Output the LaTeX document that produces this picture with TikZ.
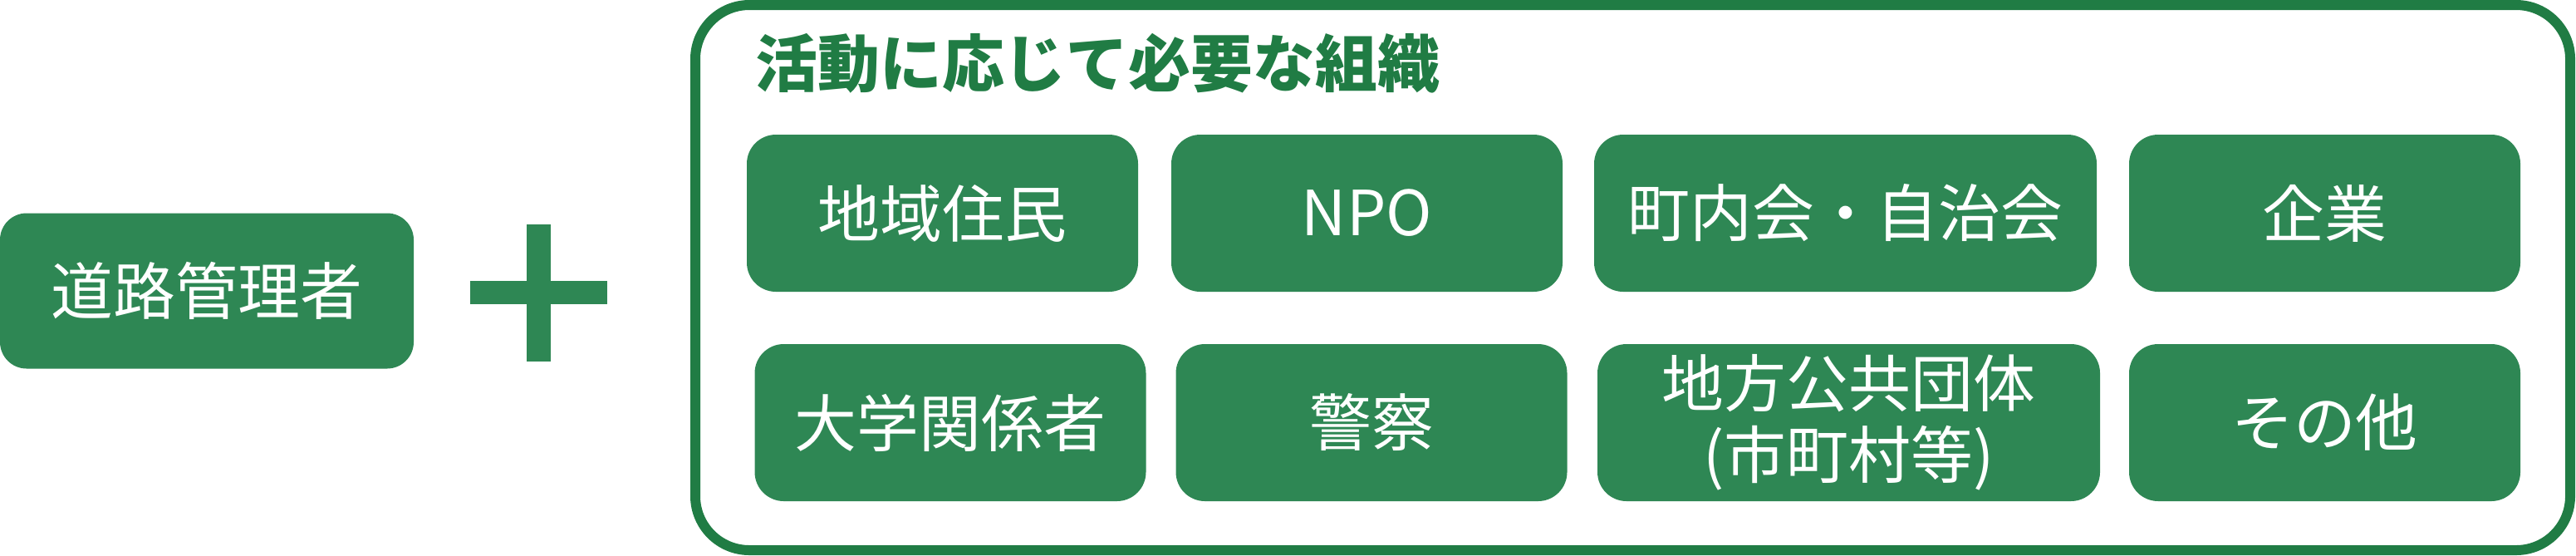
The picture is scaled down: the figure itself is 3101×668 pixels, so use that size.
\documentclass[tikz,border=0pt]{standalone}
\usepackage{fontspec}
\setmainfont{Noto Sans CJK JP}
\definecolor{boxgreen}{RGB}{46,135,84}
\definecolor{framegreen}{RGB}{32,124,68}
\tikzset{
  orgbox/.style={fill=boxgreen, rounded corners=3.5mm, text=white, minimum height=18.9mm,
    inner sep=0pt, align=center, font=\fontsize{21.3pt}{24.4pt}\selectfont},
  narrowbox/.style={orgbox, minimum width=47.1mm},
  widebox/.style={orgbox, minimum width=60.5mm}
}
\begin{document}
\begin{tikzpicture}[x=0.1mm,y=-0.1mm]
	\useasboundingbox (0,0) rectangle (3101,668);
	% road manager
	\node[orgbox, minimum width=49.8mm, minimum height=18.7mm, rounded corners=3.2mm] (manager) at (249,350) {道路管理者};
	% plus sign
	\fill[boxgreen] (566,338) rectangle (731,366);
	\fill[boxgreen] (634,270) rectangle (663,435);
	% frame
	\draw[framegreen, line width=1.2mm, rounded corners=6.5mm] (837,6) rectangle (3094,662);
	\node[anchor=west, text=framegreen, font=\fontsize{21.3pt}{24pt}\selectfont\bfseries] (title) at (897,76) {活動に応じて必要な組織};
	% first row
	\node[narrowbox] (residents) at (1134.5,256.5) {地域住民};
	\node[narrowbox] (npo) at (1645.5,256.5) {NPO};
	\node[widebox] (assoc) at (2221.5,256.5) {町内会・自治会};
	\node[narrowbox] (company) at (2798.5,256.5) {企業};
	% second row
	\node[narrowbox] (univ) at (1144,508.5) {大学関係者};
	\node[narrowbox] (police) at (1651,508.5) {警察};
	\node[widebox] (localgov) at (2225.5,508.5) {地方公共団体\\(市町村等)};
	\node[narrowbox] (others) at (2798.5,508.5) {その他};
\end{tikzpicture}
\end{document}
